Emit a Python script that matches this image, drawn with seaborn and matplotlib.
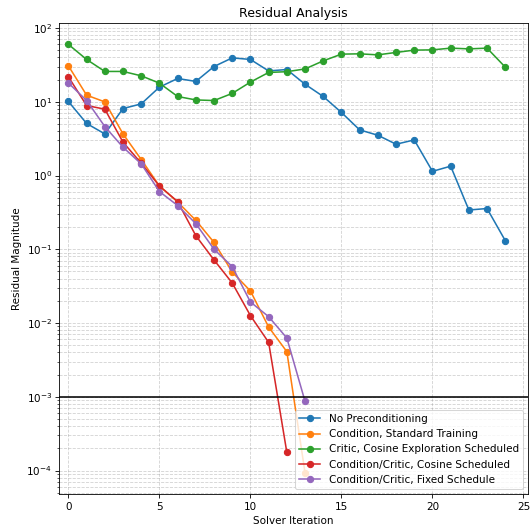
import numpy as np
import pandas as pd
import matplotlib
matplotlib.use("Agg")
import matplotlib.pyplot as plt
import seaborn as sns

labels = ["No Preconditioning", "Condition, Standard Training",
          "Critic, Cosine Exploration Scheduled", "Condition/Critic, Cosine Scheduled",
          "Condition/Critic, Fixed Schedule"]

no_precond = [10.1, 5.08, 3.67, 8.1, 9.37, 15.8, 20.7, 18.9, 30.1, 39.4, 37.5, 26.2, 27.4,
              17.3, 11.8, 7.16, 4.16, 3.52, 2.66, 3.04, 1.14, 1.34, 0.341, 0.357, 0.131]
cond_standard = [30.7, 12.3, 9.97, 3.67, 1.65, 0.723, 0.438, 0.247, 0.124, 0.0492, 0.0272,
                 0.00883, 0.00409, 9.3e-5]
critic_cosine = [60.0, 37.5, 25.8, 25.8, 22.5, 17.9, 11.8, 10.6, 10.4, 13.0, 18.5, 25.0, 25.6,
                 27.9, 35.9, 44.3, 44.7, 43.3, 46.7, 50.2, 50.6, 53.4, 52.2, 53.4, 29.5]
cc_cosine = [21.8, 8.9, 7.94, 2.83, 1.47, 0.72, 0.444, 0.153, 0.0716, 0.0349, 0.0126,
             0.00547, 0.000176]
cc_fixed = [18.0, 10.4, 4.62, 2.42, 1.44, 0.607, 0.392, 0.223, 0.100, 0.0582, 0.0193,
            0.0122, 0.00626, 0.000867]

series = [no_precond, cond_standard, critic_cosine, cc_cosine, cc_fixed]
colors = sns.color_palette("tab10", 5)

DPI = 75
fig, ax = plt.subplots(figsize=(531 / DPI, 526 / DPI), dpi=DPI)
fig.subplots_adjust(left=0.1117, right=0.9944, top=0.9563, bottom=0.0603)

for lab, vals, c in zip(labels, series, colors):
    df = pd.DataFrame({"iter": np.arange(len(vals)), "res": vals})
    sns.lineplot(data=df, x="iter", y="res", ax=ax, color=c, label=lab, marker="o",
                 markersize=6, markeredgecolor=c, markeredgewidth=1, linewidth=1.5)

ax.axhline(1e-3, color="black", linewidth=1.5)
ax.set_yscale("log")
ax.set_xlim(-0.5, 25.25)
ax.grid(True, which="both", linestyle="--", color="gray", alpha=0.35, linewidth=0.8)
ax.set_title("Residual Analysis")
ax.set_xlabel("Solver Iteration")
ax.set_ylabel("Residual Magnitude")
ax.legend(loc="lower right")
fig.savefig("out.png", dpi=DPI)
